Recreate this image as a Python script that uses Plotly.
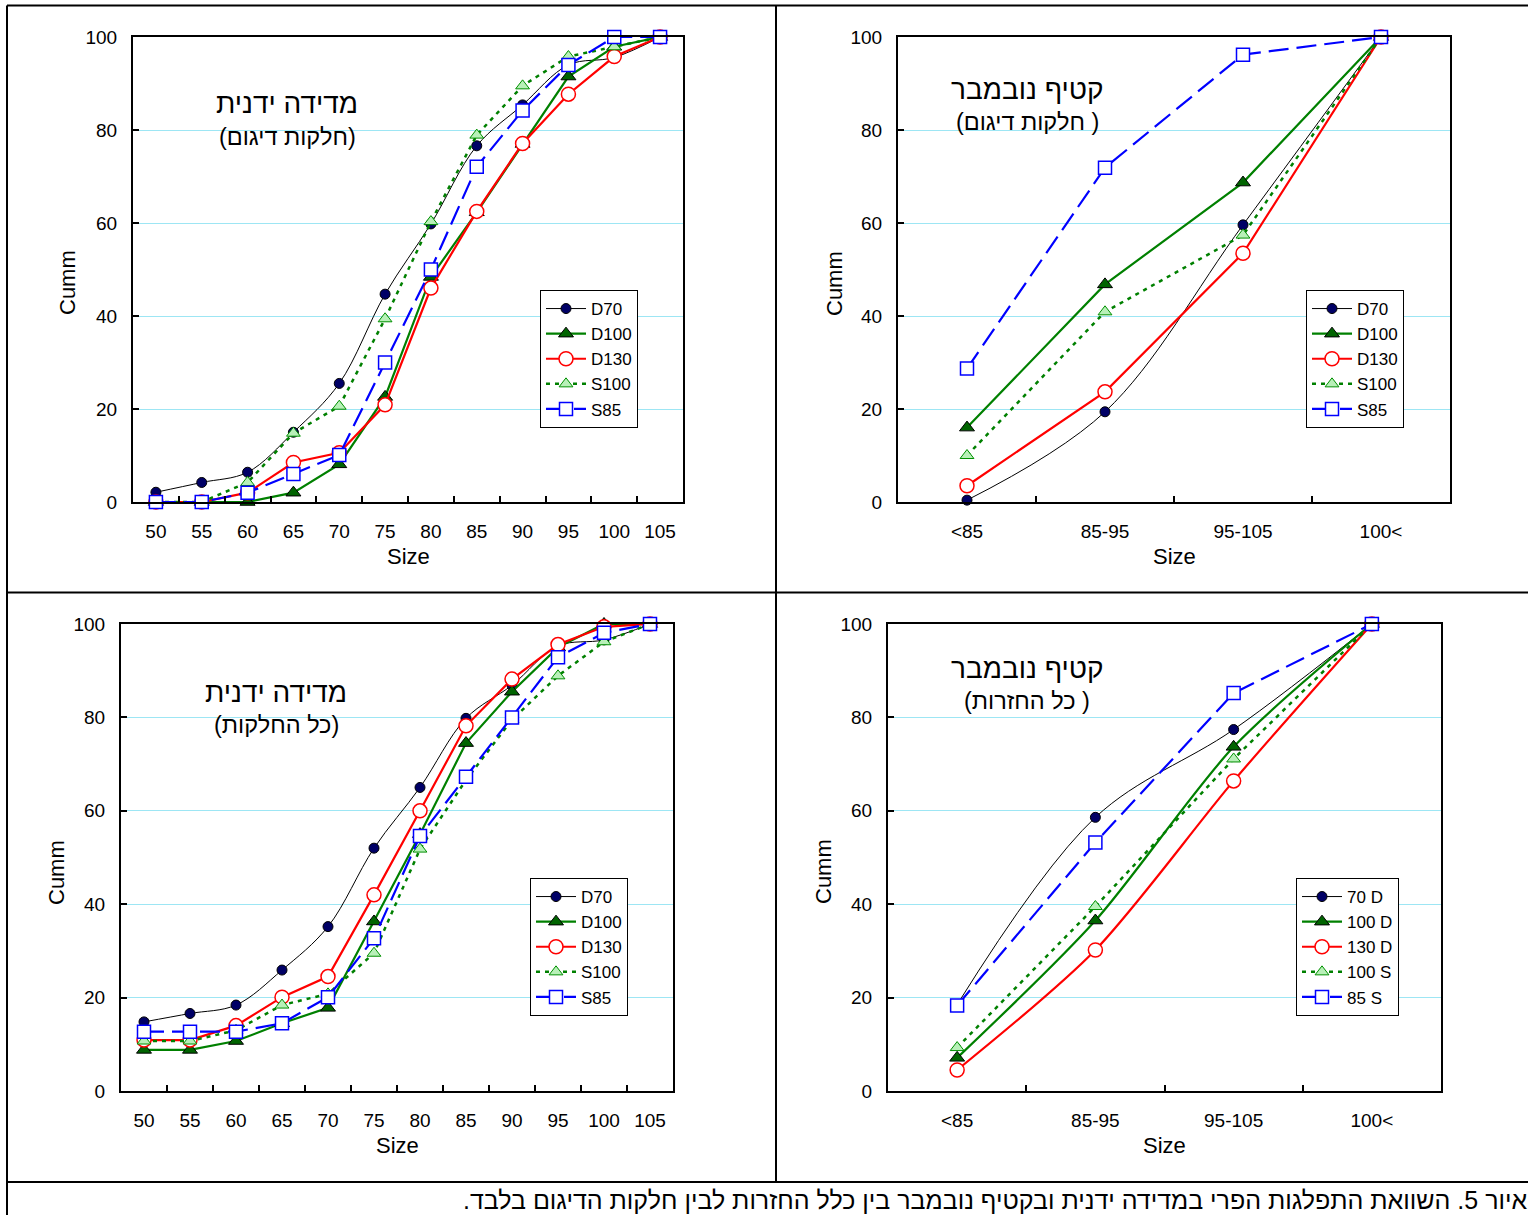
import plotly.graph_objects as go

W, H = 1528, 1215

# ---------------- data ----------------
sizes = ["50", "55", "60", "65", "70", "75", "80", "85", "90", "95", "100", "105"]
harvest = ["<85", "85-95", "95-105", "100<"]

# top-left: manual measurement (sampling plots)
tl_D70 = [2.1, 4.2, 6.4, 15.0, 25.5, 44.7, 59.8, 76.6, 85.4, 94.0, 95.6, 100]
tl_D100 = [0, 0, 0, 2.0, 8.1, 22.6, 48.4, 62.3, 77.0, 91.5, 97.9, 100]
tl_D130 = [0, 0, 2.0, 8.5, 10.6, 20.9, 46.0, 62.5, 77.1, 87.7, 95.8, 100]
tl_S100 = [0, 0, 4.2, 14.8, 20.6, 39.4, 60.3, 78.9, 89.5, 95.8, 97.9, 100]
tl_S85 = [0, 0, 2.0, 6.0, 10.1, 30.0, 50.0, 72.1, 84.2, 94.0, 100, 100]

# top-right: November harvest (sampling plots)
tr_D70 = [0.4, 19.4, 59.6, 100]
tr_D100 = [16.0, 46.8, 68.7, 100]
tr_D130 = [3.5, 23.7, 53.5, 100]
tr_S100 = [10.0, 40.9, 57.4, 100]
tr_S85 = [28.7, 71.9, 96.2, 100]

# bottom-left: manual measurement (all plots)
bl_D70 = [14.8, 16.6, 18.4, 25.9, 35.2, 52.0, 65.0, 79.8, 86.9, 95.3, 96.6, 100]
bl_D100 = [8.8, 8.8, 10.7, 14.5, 17.8, 36.3, 55.0, 74.5, 85.5, 95.0, 100, 100]
bl_D130 = [10.9, 10.9, 14.0, 20.1, 24.5, 42.0, 60.0, 78.2, 88.2, 95.6, 99.4, 100]
bl_S100 = [10.7, 10.7, 13.0, 18.4, 20.8, 29.5, 51.8, 66.6, 79.5, 88.9, 96.2, 100]
bl_S85 = [12.7, 12.7, 12.7, 14.5, 20.1, 32.7, 54.6, 67.3, 80.0, 92.9, 98.1, 100]

# bottom-right: November harvest (all replicates)
br_D70 = [18.5, 58.6, 77.4, 100]
br_D100 = [7.1, 36.5, 73.7, 100]
br_D130 = [4.5, 30.2, 66.4, 100]
br_S100 = [9.3, 39.5, 71.1, 100]
br_S85 = [18.3, 53.2, 85.2, 100]

names_top = ["D70", "D100", "D130", "S100", "S85"]
names_br = ["70 D", "100 D", "130 D", "100 S", "85 S"]

titles = [
    ("מדידה ידנית", "(חלקות דיגום)"),
    ("קטיף נובמבר", "(חלקות דיגום )"),
    ("מדידה ידנית", "(כל החלקות)"),
    ("קטיף נובמבר", "(כל החזרות )"),
]
x_title = "Size"
y_title = "Cumm"
caption = "איור 5. השוואת התפלגות הפרי במדידה ידנית ובקטיף נובמבר בין כלל החזרות לבין חלקות הדיגום בלבד.\u200f"

# ---------------- styles ----------------
FONT = "Arial, 'Liberation Sans', sans-serif"
styles = [
    dict(line=dict(color="black", width=1),
         marker=dict(symbol="circle", size=10, color="#000066", line=dict(color="black", width=1))),
    dict(line=dict(color="#008000", width=2.2),
         marker=dict(symbol="triangle-up", size=13, color="#006400", line=dict(color="black", width=1))),
    dict(line=dict(color="#FF0000", width=2.2),
         marker=dict(symbol="circle", size=14, color="white", line=dict(color="#FF0000", width=1.5))),
    dict(line=dict(color="#008000", width=2.5, dash="4px,5px"),
         marker=dict(symbol="triangle-up", size=12, color="#B8F0B8", line=dict(color="#009000", width=1))),
    dict(line=dict(color="#0000FF", width=2.2, dash="20px,8px"),
         marker=dict(symbol="square", size=13, color="white", line=dict(color="#0000FF", width=1.5))),
]

fig = go.Figure()

panels = [
    dict(x=sizes, ys=[tl_D70, tl_D100, tl_D130, tl_S100, tl_S85], names=names_top,
         xa="x", ya="y", leg="legend", px=(133, 683), py=(37, 502), legpos=(540, 290),
         titlepos=(287, 104), spl=[0], ytpos=(67, 283)),
    dict(x=harvest, ys=[tr_D70, tr_D100, tr_D130, tr_S100, tr_S85], names=names_top,
         xa="x2", ya="y2", leg="legend2", px=(898, 1450), py=(37, 502), legpos=(1306, 290),
         titlepos=(1027, 89), spl=[0], ytpos=(834, 283)),
    dict(x=sizes, ys=[bl_D70, bl_D100, bl_D130, bl_S100, bl_S85], names=names_top,
         xa="x3", ya="y3", leg="legend3", px=(121, 673), py=(624, 1091), legpos=(530, 878),
         titlepos=(276, 692), spl=[0], ytpos=(56, 872)),
    dict(x=harvest, ys=[br_D70, br_D100, br_D130, br_S100, br_S85], names=names_br,
         xa="x4", ya="y4", leg="legend4", px=(888, 1441), py=(624, 1091), legpos=(1296, 878),
         titlepos=(1027, 668), spl=[0, 1, 2], ytpos=(823, 872)),
]

layout_axes = {}
legends = {}
annotations = []
for i, p in enumerate(panels):
    for j, (yv, nm) in enumerate(zip(p["ys"], p["names"])):
        st = styles[j]
        line = dict(st["line"])
        if j in p["spl"]:
            line["shape"] = "spline"
            line["smoothing"] = 1.0 if j == 0 else 0.8
        fig.add_trace(go.Scatter(
            x=p["x"], y=yv, name=nm, mode="lines+markers",
            line=line, marker=st["marker"],
            xaxis=p["xa"], yaxis=p["ya"], legend=p["leg"], showlegend=True,
            cliponaxis=False,
        ))
    suffix = "" if i == 0 else str(i + 1)
    x0, x1 = p["px"]
    y0, y1 = p["py"]
    layout_axes["xaxis" + suffix] = dict(
        domain=[x0 / W, x1 / W], anchor="y" + suffix, type="category",
        range=[-0.5, len(p["x"]) - 0.5], showgrid=False, zeroline=False,
        showline=True, linecolor="black", linewidth=2, mirror=True,
        ticks="inside", tickson="boundaries", ticklen=6, tickcolor="black", tickwidth=1.5,
        tickfont=dict(family=FONT, size=19, color="black"), ticklabelstandoff=11,
        automargin=False, fixedrange=True,
    )
    layout_axes["yaxis" + suffix] = dict(
        domain=[1 - y1 / H, 1 - y0 / H], anchor="x" + suffix,
        range=[0, 100], dtick=20, showgrid=True, gridcolor="#9DE6F4", gridwidth=1,
        zeroline=False, showline=True, linecolor="black", linewidth=2, mirror=True,
        ticks="inside", ticklen=6, tickcolor="black", tickwidth=1.5,
        tickfont=dict(family=FONT, size=19, color="black"), ticklabelstandoff=10,
        automargin=False, fixedrange=True,
    )
    lx, ly = p["legpos"]
    legends[p["leg"]] = dict(
        x=lx / W, y=1 - ly / H, xanchor="left", yanchor="top",
        xref="paper", yref="paper",
        bgcolor="white", bordercolor="black", borderwidth=1,
        font=dict(family=FONT, size=17, color="black"),
        tracegroupgap=0, itemwidth=40,
    )
    tx, ty = p["titlepos"]
    annotations.append(dict(x=tx / W, y=1 - ty / H, xref="paper", yref="paper",
                            text=titles[i][0], showarrow=False,
                            font=dict(family=FONT, size=28, color="black"),
                            xanchor="center", yanchor="middle"))
    annotations.append(dict(x=tx / W, y=1 - (ty + 33) / H, xref="paper", yref="paper",
                            text=titles[i][1], showarrow=False,
                            font=dict(family=FONT, size=23.5, color="black"),
                            xanchor="center", yanchor="middle"))
    # axis titles
    annotations.append(dict(x=(x0 + x1) / 2 / W, y=1 - (y1 + 54) / H, xref="paper", yref="paper",
                            text=x_title, showarrow=False,
                            font=dict(family=FONT, size=22, color="black"),
                            xanchor="center", yanchor="middle"))
    yx, yy = p["ytpos"]
    annotations.append(dict(x=yx / W, y=1 - yy / H, xref="paper", yref="paper",
                            text=y_title, showarrow=False, textangle=-90,
                            font=dict(family=FONT, size=22, color="black"),
                            xanchor="center", yanchor="middle"))

annotations.append(dict(x=1529 / W, y=1 - 1200 / H, xref="paper", yref="paper",
                        text=caption, showarrow=False,
                        font=dict(family=FONT, size=25, color="black"),
                        xanchor="right", yanchor="middle"))

# table frame lines
def hline(y, x0, x1):
    return dict(type="line", xref="paper", yref="paper", x0=x0 / W, x1=x1 / W,
                y0=1 - y / H, y1=1 - y / H, line=dict(color="black", width=2))

def vline(x, y0, y1):
    return dict(type="line", xref="paper", yref="paper", x0=x / W, x1=x / W,
                y0=1 - y0 / H, y1=1 - y1 / H, line=dict(color="black", width=2))

shapes = [
    hline(5.5, 7, W), hline(592.5, 7, W), hline(1182, 7, W),
    vline(7, 5.5, H), vline(776, 5.5, 1182),
]

fig.update_layout(
    width=W, height=H, autosize=False,
    margin=dict(l=0, r=0, t=0, b=0, pad=0, autoexpand=False),
    paper_bgcolor="white", plot_bgcolor="white",
    font=dict(family=FONT, color="black"),
    annotations=annotations, shapes=shapes,
    **layout_axes, **legends,
)

fig.write_html("out.html")
